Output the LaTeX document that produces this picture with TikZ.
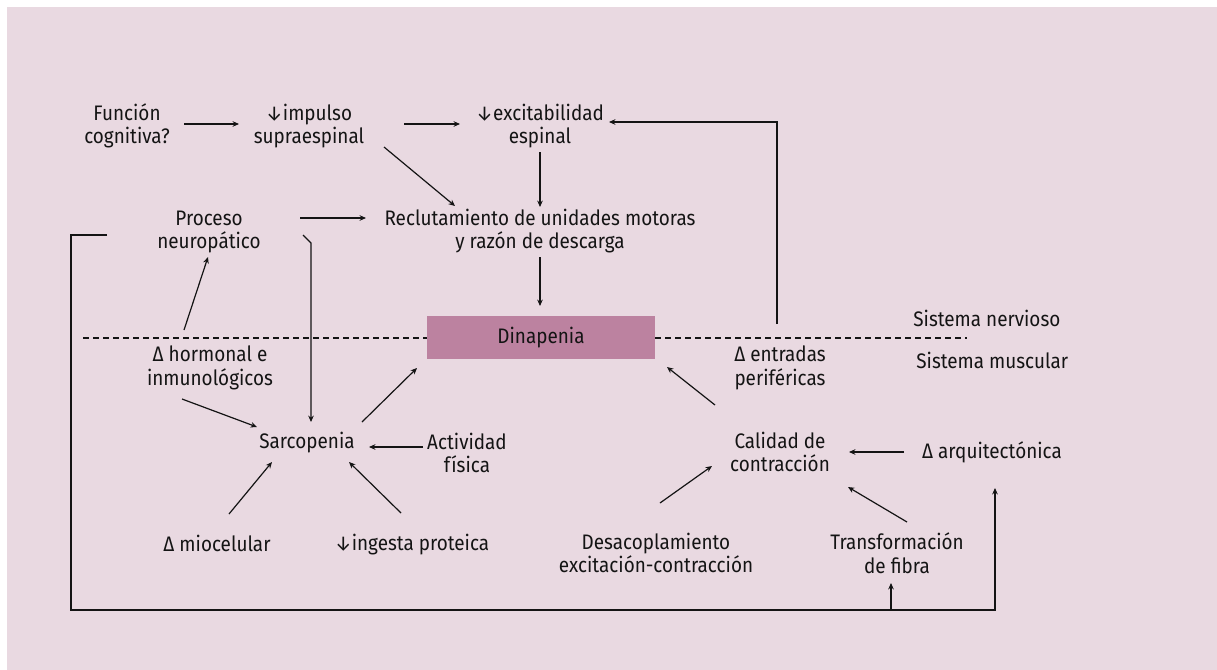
\documentclass[tikz,border=0pt]{standalone}
\usepackage{fontspec}
\setmainfont{Fira Sans}[FakeStretch=0.9]
\usetikzlibrary{arrows.meta}
\definecolor{bgpink}{HTML}{E9D9E1}
\definecolor{dinfill}{HTML}{BC82A0}
\definecolor{ink}{HTML}{141414}
\tikzset{
  lbl/.style={inner sep=0pt, align=center, text=ink, font=\fontsize{10.5pt}{11.75pt}\selectfont},
  arr/.style={draw=ink, line width=0.6pt, -{Stealth[length=3.2pt,width=2.8pt]}},
  plain/.style={draw=ink, line width=0.6pt},
  divider/.style={draw=ink, line width=0.6pt, dash pattern=on 3pt off 2pt},
  dinbox/.style={fill=dinfill, minimum width=114pt, minimum height=21.5pt, inner sep=0pt, text=ink, font=\fontsize{10.5pt}{11.75pt}\selectfont}
}
\begin{document}
\begin{tikzpicture}[x=0.5pt, y=-0.5pt]
\useasboundingbox (0,0) rectangle (1217,670);
\fill[bgpink] (7,7) rectangle (1217,670);

% coordinates for dashed divider ends and the loop corner
\coordinate (dl) at (83,338);
\coordinate (dr) at (967,338);
\coordinate (bl) at (71,610);

\draw[divider] (dl) -- (427,338);
\draw[divider] (655,338) -- (dr);

% nodes
\node[lbl] (fc)  at (127,126) {Función\\cognitiva?};
\node[lbl] (imp) at (309,126) {↓impulso\\supraespinal};
\node[lbl] (exc) at (540,126) {↓excitabilidad\\espinal};
\node[lbl] (pro) at (209,232) {Proceso\\neuropático};
\node[lbl] (rec) at (540,231) {Reclutamiento de unidades motoras\\y razón de descarga};
\node[dinbox] (din) at (541,337.5) {Dinapenia};
\node[lbl] (hor) at (210,368) {Δ hormonal e\\inmunológicos};
\node[lbl] (ent) at (780,368) {Δ entradas\\periféricas};
\node[lbl, anchor=west] (sn) at (913,318) {Sistema nervioso};
\node[lbl, anchor=west] (sm) at (916,360) {Sistema muscular};
\node[lbl] (sar) at (307,443) {Sarcopenia};
\node[lbl] (act) at (467,453) {Actividad\\física};
\node[lbl] (mio) at (217,543) {Δ miocelular};
\node[lbl] (ing) at (412,545) {↓ingesta proteica};
\node[lbl] (cal) at (780,452) {Calidad de\\contracción};
\node[lbl] (arq) at (992,452) {Δ arquitectónica};
\node[lbl] (des) at (656,553) {Desacoplamiento\\excitación-contracción};
\node[lbl] (tra) at (897,553) {Transformación\\de fibra};

% connectors
\draw[arr] ([shift={(57,-2)}]fc.center) -- ([shift={(-70,-2)}]imp.center);
\draw[arr] ([shift={(95,-2)}]imp.center) -- ([shift={(-80,-2)}]exc.center);
\draw[arr] ([shift={(-3,-44)}]ent.center) |- ([shift={(69,-4)}]exc.center);
\draw[arr] ([shift={(75,21)}]imp.center) -- ([shift={(-85,-25)}]rec.center);
\draw[arr] ([shift={(0,26)}]exc.center) -- ([shift={(0,-24)}]rec.center);
\draw[arr] ([shift={(91,-14)}]pro.center) -- ([shift={(-174,-13)}]rec.center);
\draw[arr] ([shift={(0,26)}]rec.center) -- ([shift={(-1,-31.5)}]din.center);
\draw[arr] ([shift={(-26,-38)}]hor.center) -- ([shift={(-1,25)}]pro.center);
\draw[arr] ([shift={(-102,3)}]pro.center) -| (bl) -| ([shift={(3,36)}]arq.center);
\draw[arr] ([shift={(-6,57)}]tra.center) -- ([shift={(-6,30)}]tra.center);
\draw[arr] ([shift={(94,3)}]pro.center) -- ([shift={(102,11)}]pro.center) -- ([shift={(4,-21)}]sar.center);
\draw[arr] ([shift={(-28,31)}]hor.center) -- ([shift={(-50,-16)}]sar.center);
\draw[arr] ([shift={(55,-21)}]sar.center) -- ([shift={(-124,30.5)}]din.center);
\draw[arr] ([shift={(-44,-6)}]act.center) -- ([shift={(62,4)}]sar.center);
\draw[arr] ([shift={(12,-29)}]mio.center) -- ([shift={(-35,19)}]sar.center);
\draw[arr] ([shift={(-11,-32)}]ing.center) -- ([shift={(42,19)}]sar.center);
\draw[arr] ([shift={(-65,-47)}]cal.center) -- ([shift={(126,29.5)}]din.center);
\draw[arr] ([shift={(-88,0)}]arq.center) -- ([shift={(69,0)}]cal.center);
\draw[arr] ([shift={(4,-50)}]des.center) -- ([shift={(-68,14)}]cal.center);
\draw[arr] ([shift={(10,-31)}]tra.center) -- ([shift={(68,35)}]cal.center);
\end{tikzpicture}
\end{document}
